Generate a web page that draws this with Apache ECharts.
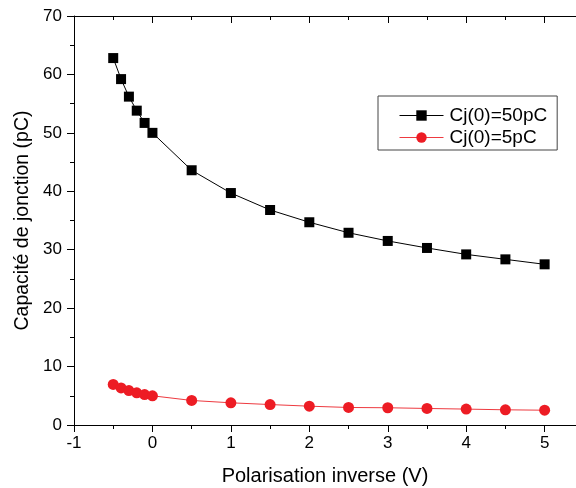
<!DOCTYPE html>
<html>
<head>
<meta charset="utf-8">
<script src="https://cdn.jsdelivr.net/npm/echarts@6/dist/echarts.min.js"></script>
<style>html,body{margin:0;padding:0;background:#fff;}#c{width:576px;height:488px;}</style>
</head>
<body>
<div id="c"></div>
<script>
const voltages = [-0.5, -0.4, -0.3, -0.2, -0.1, 0, 0.5, 1, 1.5, 2, 2.5, 3, 3.5, 4, 4.5, 5];
const cj50 = [62.8, 59.2, 56.2, 53.8, 51.7, 50.0, 43.6, 39.7, 36.8, 34.7, 32.9, 31.5, 30.3, 29.2, 28.35, 27.5];
const cj5 = [6.95, 6.35, 5.9, 5.5, 5.2, 5.0, 4.2, 3.8, 3.5, 3.22, 3.0, 2.95, 2.83, 2.72, 2.6, 2.53];
const seriesNames = ['Cj(0)=50pC', 'Cj(0)=5pC'];
const xTitle = 'Polarisation inverse (V)';
const yTitle = 'Capacité de jonction (pC)';

const FONT = 'Liberation Sans, Arial, sans-serif';
const chart = echarts.init(document.getElementById('c'), null, {renderer: 'canvas'});
const pairs = (ys) => voltages.map((v, i) => [v, ys[i]]);

chart.setOption({
  animation: false,
  backgroundColor: '#fff',
  grid: {left: 74, top: 16, right: 0, bottom: 63, containLabel: false, outerBoundsMode: 'none'},
  legend: {
    orient: 'vertical',
    left: 378, top: 96,
    padding: [10, 10, 3, 21],
    itemGap: 3,
    itemWidth: 44, itemHeight: 13,
    borderColor: '#444', borderWidth: 1,
    lineStyle: {width: 1},
    textStyle: {fontFamily: FONT, fontSize: 19, color: '#000', padding: [0,0,0,1]},
    data: seriesNames
  },
  xAxis: [{
    type: 'value', position: 'bottom', min: -1, max: 5.4, interval: 1,
    axisLine: {show: true, onZero: false, lineStyle: {color: '#000', width: 1}},
    axisTick: {show: true, inside: false, length: 7, lineStyle: {color: '#000'}},
    minorTick: {show: true, splitNumber: 2, length: 4, lineStyle: {color: '#000'}},
    axisLabel: {fontFamily: FONT, fontSize: 17, color: '#000', margin: 10, showMaxLabel: false,
      formatter: (v) => Number.isInteger(v) ? String(v) : ''},
    splitLine: {show: false},
    name: xTitle, nameLocation: 'middle', nameGap: 41,
    nameTextStyle: {fontFamily: FONT, fontSize: 20, color: '#000'}
  }, {
    type: 'value', position: 'top', min: -1, max: 5.4, interval: 1,
    axisLine: {show: true, onZero: false, lineStyle: {color: '#000', width: 1}},
    axisTick: {show: true, inside: true, length: 7, lineStyle: {color: '#000'}},
    minorTick: {show: true, splitNumber: 2, length: 4, lineStyle: {color: '#000'}},
    axisLabel: {show: false},
    splitLine: {show: false}
  }],
  yAxis: [{
    type: 'value', min: 0, max: 70, interval: 10,
    axisLine: {show: true, onZero: false, lineStyle: {color: '#000', width: 1}},
    axisTick: {show: true, inside: false, length: 7, lineStyle: {color: '#000'}},
    minorTick: {show: true, splitNumber: 2, length: 4, lineStyle: {color: '#000'}},
    axisLabel: {fontFamily: FONT, fontSize: 17, color: '#000', margin: 12},
    splitLine: {show: false},
    name: yTitle, nameLocation: 'middle', nameGap: 39,
    nameTextStyle: {fontFamily: FONT, fontSize: 19.5, color: '#000'}
  }],
  series: [{
    name: seriesNames[0], type: 'line', data: pairs(cj50),
    symbol: 'rect', symbolSize: 10,
    itemStyle: {color: '#000'},
    lineStyle: {color: '#000', width: 1}
  }, {
    name: seriesNames[1], type: 'line', data: pairs(cj5),
    symbol: 'circle', symbolSize: 11,
    itemStyle: {color: '#ED1C24'},
    lineStyle: {color: '#EE3A40', width: 1}
  }]
});
</script>
</body>
</html>
